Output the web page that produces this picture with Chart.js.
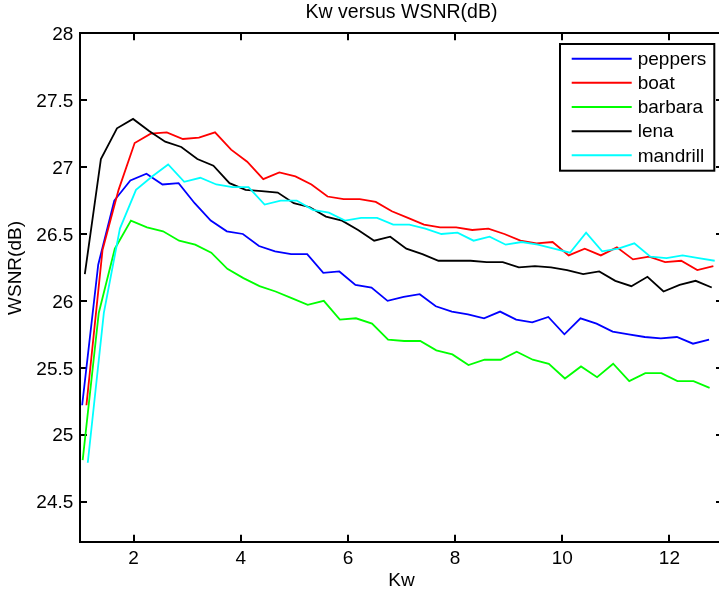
<!DOCTYPE html>
<html>
<head>
<meta charset="utf-8">
<script src="https://cdn.jsdelivr.net/npm/chart.js@4"></script>
<style>
  html, body { margin: 0; padding: 0; overflow: hidden; background: #ffffff; width: 719px; height: 595px; }
  #wrap { position: relative; width: 740px; height: 595px; }
  canvas { display: block; }
</style>
</head>
<body>
<div id="wrap"><canvas id="c" width="740" height="595"></canvas></div>
<script>
// ---- chart text ----
const chartTitle = 'Kw versus WSNR(dB)';
const xLabel = 'Kw';
const yLabel = 'WSNR(dB)';

// ---- categories / series ----
const seriesNames = ['peppers', 'boat', 'barbara', 'lena', 'mandrill'];
const seriesColors = ['#0000ff', '#ff0000', '#00ff00', '#000000', '#00ffff'];

// Kw sample positions (base) and the small per-series shift
const kw = [1.0, 1.3, 1.6, 1.9, 2.2, 2.5, 2.8, 3.1, 3.4, 3.7,
            4.0, 4.3, 4.6, 4.9, 5.2, 5.5, 5.8, 6.1, 6.4, 6.7,
            7.0, 7.3, 7.6, 7.9, 8.2, 8.5, 8.8, 9.1, 9.4, 9.7,
            10.0, 10.3, 10.6, 10.9, 11.2, 11.5, 11.8, 12.1, 12.4, 12.7];
const kwShift = [0.04, 0.12, 0.05, 0.09, 0.145];

const peppers = [25.22, 26.27, 26.75, 26.90, 26.95, 26.87, 26.88, 26.73, 26.60, 26.52,
                 26.50, 26.41, 26.37, 26.35, 26.35, 26.21, 26.22, 26.12, 26.10, 26.00,
                 26.03, 26.05, 25.96, 25.92, 25.90, 25.87, 25.92, 25.86, 25.84, 25.88,
                 25.75, 25.87, 25.83, 25.77, 25.75, 25.73, 25.72, 25.73, 25.68, 25.71];
const boat = [25.22, 26.38, 26.83, 27.18, 27.25, 27.26, 27.21, 27.22, 27.26, 27.13,
              27.04, 26.91, 26.96, 26.93, 26.87, 26.78, 26.76, 26.76, 26.74, 26.67,
              26.62, 26.57, 26.55, 26.55, 26.53, 26.54, 26.50, 26.45, 26.43, 26.44,
              26.34, 26.39, 26.34, 26.40, 26.31, 26.33, 26.29, 26.30, 26.23, 26.26];
const barbara = [24.81, 25.91, 26.39, 26.60, 26.55, 26.52, 26.45, 26.42, 26.36, 26.24,
                 26.17, 26.11, 26.07, 26.02, 25.97, 26.00, 25.86, 25.87, 25.83, 25.71,
                 25.70, 25.70, 25.63, 25.60, 25.52, 25.56, 25.56, 25.62, 25.56, 25.53,
                 25.42, 25.51, 25.43, 25.53, 25.40, 25.46, 25.46, 25.40, 25.40, 25.35];
const lena = [26.20, 27.06, 27.29, 27.36, 27.27, 27.19, 27.15, 27.06, 27.01, 26.88,
              26.83, 26.82, 26.81, 26.73, 26.70, 26.63, 26.60, 26.53, 26.45, 26.48,
              26.39, 26.35, 26.30, 26.30, 26.30, 26.29, 26.29, 26.25, 26.26, 26.25,
              26.23, 26.20, 26.22, 26.15, 26.11, 26.18, 26.07, 26.12, 26.15, 26.10];
const mandrill = [24.79, 25.91, 26.54, 26.83, 26.93, 27.02, 26.89, 26.92, 26.87, 26.85,
                  26.85, 26.72, 26.75, 26.75, 26.68, 26.66, 26.60, 26.62, 26.62, 26.57,
                  26.57, 26.54, 26.50, 26.51, 26.45, 26.48, 26.42, 26.44, 26.42, 26.39,
                  26.36, 26.51, 26.37, 26.39, 26.43, 26.33, 26.32, 26.34, 26.32, 26.30];

// ---- ticks / ranges ----
const xTicks = [2, 4, 6, 8, 10, 12];
const yTicks = [24.5, 25, 25.5, 26, 26.5, 27, 27.5, 28];
const xRange = [1, 13];
const yRange = [24.2, 28];

// ---- build ----
const FONT = '"Liberation Sans", Arial, Helvetica, sans-serif';
const seriesValues = [peppers, boat, barbara, lena, mandrill];

const datasets = seriesNames.map((name, i) => ({
  label: name,
  data: seriesValues[i].map((v, k) => ({ x: kw[k] + kwShift[i], y: v })),
  borderColor: seriesColors[i],
  backgroundColor: seriesColors[i],
  borderWidth: 1.8,
  pointRadius: 0,
  pointHoverRadius: 0,
  tension: 0,
  fill: false,
  order: seriesNames.length - i
}));

function axisBase(pos) {
  return {
    type: 'linear',
    position: pos,
    border: { display: true, color: '#000000', width: 2 },
    grid: { display: true, drawOnChartArea: false, drawTicks: true, tickLength: -7, color: '#000000', lineWidth: 2 }
  };
}
const setXTicks = s => { s.ticks = xTicks.map(v => ({ value: v })); };
const setYTicks = s => { s.ticks = yTicks.map(v => ({ value: v })); };

const overlayPlugin = {
  id: 'overlay',
  afterDraw(chart) {
    const ctx = chart.ctx;
    const ca = chart.chartArea;
    ctx.save();
    // y axis label
    ctx.translate(16, 268);
    ctx.rotate(-Math.PI / 2);
    ctx.font = '19px ' + FONT;
    ctx.fillStyle = '#000000';
    ctx.textAlign = 'center';
    ctx.textBaseline = 'middle';
    ctx.fillText(yLabel, 0, 0);
    ctx.restore();

    // legend box
    const bx = ca.left + 480, by = ca.top + 10.7, bw = 154.3, bh = 126.7;
    ctx.save();
    ctx.fillStyle = '#ffffff';
    ctx.fillRect(bx, by, bw, bh);
    ctx.lineWidth = 2;
    ctx.strokeStyle = '#000000';
    ctx.strokeRect(bx, by, bw, bh);
    ctx.font = '19px ' + FONT;
    ctx.textAlign = 'left';
    ctx.textBaseline = 'middle';
    chart.data.datasets.forEach((ds, i) => {
      const y = by + 14.7 + i * 24.15;
      ctx.strokeStyle = ds.borderColor;
      ctx.lineWidth = 2;
      ctx.beginPath();
      ctx.moveTo(bx + 11.7, y);
      ctx.lineTo(bx + 71.7, y);
      ctx.stroke();
      ctx.fillStyle = '#000000';
      ctx.fillText(ds.label, bx + 77.7, y + 1);
    });
    ctx.restore();
  }
};

new Chart(document.getElementById('c'), {
  type: 'line',
  data: { datasets },
  options: {
    responsive: false,
    devicePixelRatio: 1,
    animation: false,
    events: [],
    layout: { padding: 0 },
    plugins: { legend: { display: false }, title: { display: false }, tooltip: { enabled: false } },
    scales: {
      x: Object.assign(axisBase('bottom'), {
        min: xRange[0], max: xRange[1],
        afterBuildTicks: setXTicks,
        ticks: { font: { family: FONT, size: 19 }, color: '#000000', padding: 13, maxRotation: 0, autoSkip: false },
        title: { display: true, text: xLabel, color: '#000000', font: { family: FONT, size: 19 }, padding: { top: 0, bottom: 3 } },
        afterFit: s => { s.height = 53.3; }
      }),
      x2: Object.assign(axisBase('top'), {
        min: xRange[0], max: xRange[1],
        afterBuildTicks: setXTicks,
        ticks: { display: false },
        title: { display: true, text: chartTitle, color: '#000000', font: { family: FONT, size: 19.5 }, padding: { top: 1.3, bottom: 0 } },
        afterFit: s => { s.height = 33.3; }
      }),
      y: Object.assign(axisBase('left'), {
        min: yRange[0], max: yRange[1],
        afterBuildTicks: setYTicks,
        ticks: { font: { family: FONT, size: 19 }, color: '#000000', padding: 13.7, labelOffset: 1.5, callback: v => String(v) },
        afterFit: s => { s.width = 80; }
      }),
      y2: Object.assign(axisBase('right'), {
        min: yRange[0], max: yRange[1],
        afterBuildTicks: setYTicks,
        ticks: { display: false },
        afterFit: s => { s.width = 17; }
      })
    }
  },
  plugins: [overlayPlugin]
});
</script>
</body>
</html>
